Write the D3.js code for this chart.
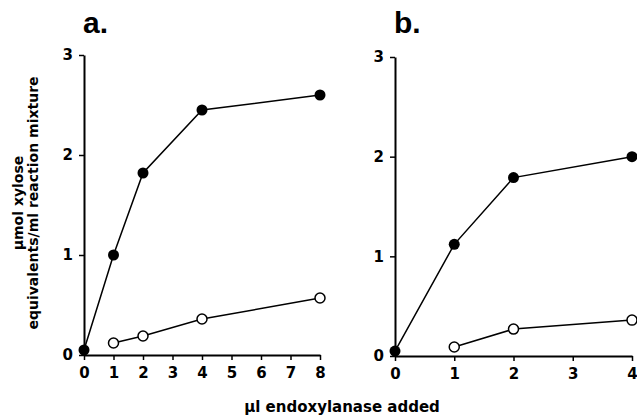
<!DOCTYPE html>
<html>
<head>
<meta charset="utf-8">
<script src="https://cdn.jsdelivr.net/npm/d3@7"></script>
<style>
  body { margin: 0; background: #fff; }
  svg text { font-family: "DejaVu Sans", Arial, sans-serif; font-weight: bold; fill: #000; }
</style>
</head>
<body>
<svg id="chart" width="637" height="415"></svg>
<script>
// panel a: endoxylanase added (µl) vs xylose equivalents
var aDose = [0, 1, 2, 4, 8];
var aFilled = [0.05, 1.0, 1.82, 2.45, 2.6];
var aOpenDose = [1, 2, 4, 8];
var aOpen = [0.12, 0.19, 0.36, 0.57];
var aTicks = [0, 1, 2, 3, 4, 5, 6, 7, 8];

// panel b
var bDose = [0, 1, 2, 4];
var bFilled = [0.05, 1.12, 1.79, 2.0];
var bOpenDose = [1, 2, 4];
var bOpen = [0.09, 0.27, 0.36];
var bTicks = [0, 1, 2, 3, 4];

var yTicks = [0, 1, 2, 3];

var svg = d3.select('#chart');

function panel(opt) {
  var x = d3.scaleLinear().domain([0, opt.xmax]).range([opt.x0, opt.x1]);
  var y = d3.scaleLinear().domain([0, 3]).range([opt.y0, opt.y1]);
  var g = svg.append('g');

  var xAxis = g.append('g')
      .attr('transform', 'translate(0,' + opt.y0 + ')')
      .call(d3.axisBottom(x).tickValues(opt.ticks).tickFormat(d3.format('d'))
        .tickSize(5).tickSizeOuter(0).tickPadding(7));
  var yAxis = g.append('g')
      .attr('transform', 'translate(' + opt.x0 + ',0)')
      .call(d3.axisLeft(y).tickValues(yTicks).tickFormat(d3.format('d'))
        .tickSize(5).tickSizeOuter(0).tickPadding(6));
  [xAxis, yAxis].forEach(function (ax) {
    ax.select('.domain').attr('stroke', '#000').attr('stroke-width', 2);
    ax.selectAll('.tick line').attr('stroke', '#000').attr('stroke-width', 1.5);
    ax.selectAll('text').attr('font-size', 15).attr('font-family', '"DejaVu Sans", Arial, sans-serif')
      .attr('font-weight', 'bold').attr('fill', '#000');
  });

  var line = d3.line()
      .x(function (d) { return x(d[0]); })
      .y(function (d) { return y(d[1]); });

  var filled = d3.zip(opt.dose, opt.filled);
  var open = d3.zip(opt.openDose, opt.open);

  [open, filled].forEach(function (pts) {
    g.append('path').datum(pts).attr('d', line)
      .attr('fill', 'none').attr('stroke', '#000').attr('stroke-width', 1.5);
  });

  g.selectAll('circle.open').data(open).enter().append('circle')
      .attr('class', 'open')
      .attr('cx', function (d) { return x(d[0]); })
      .attr('cy', function (d) { return y(d[1]); })
      .attr('r', 5).attr('fill', '#fff').attr('stroke', '#000').attr('stroke-width', 1.5);
  g.selectAll('circle.filled').data(filled).enter().append('circle')
      .attr('class', 'filled')
      .attr('cx', function (d) { return x(d[0]); })
      .attr('cy', function (d) { return y(d[1]); })
      .attr('r', 5.5).attr('fill', '#000');

  g.append('text').attr('x', opt.x0 - 1).attr('y', 33)
      .style('font-family', '"Liberation Sans", Arial, sans-serif')
      .attr('font-size', 30).text(opt.label);
}

panel({ x0: 84, x1: 320, y0: 355, y1: 55, xmax: 8, dose: aDose, filled: aFilled,
  openDose: aOpenDose, open: aOpen, ticks: aTicks, label: 'a.' });
panel({ x0: 395, x1: 632, y0: 356, y1: 57, xmax: 4, dose: bDose, filled: bFilled,
  openDose: bOpenDose, open: bOpen, ticks: bTicks, label: 'b.' });

// axis titles
svg.append('text').attr('x', 342).attr('y', 412).attr('text-anchor', 'middle')
  .attr('font-size', 15).text('\u00b5l endoxylanase added');
svg.append('text').attr('transform', 'translate(23,203) rotate(-90)')
  .attr('text-anchor', 'middle').attr('font-size', 14).text('\u00b5mol xylose');
svg.append('text').attr('transform', 'translate(38,203) rotate(-90)')
  .attr('text-anchor', 'middle').attr('font-size', 14).text('equivalents/ml reaction mixture');
</script>
</body>
</html>
